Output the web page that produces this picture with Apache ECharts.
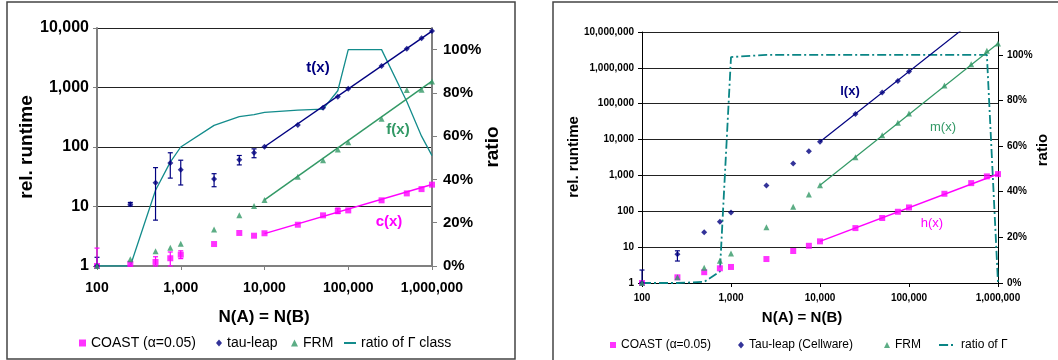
<!DOCTYPE html>
<html><head><meta charset="utf-8">
<script src="https://cdn.jsdelivr.net/npm/echarts@6/dist/echarts.min.js"></script>
<style>html,body{margin:0;padding:0;background:#fff}#c{width:1058px;height:360px}</style>
</head><body><div id="c"></div>
<script>
// ---- data ----
const N = [100,250,500,750,1000,2500,5000,7500,10000,25000,50000,75000,100000,250000,500000,750000,1000000];
const xTicks = [100,1000,10000,100000,1000000];
const ratioTicks = [0,0.2,0.4,0.6,0.8,1.0];

// left chart
const coastL = [1,1.09,1.17,1.35,1.55,2.34,3.59,3.23,3.55,4.94,7.1,8.4,8.6,12.7,16.6,19.6,23.3];
const tauL   = [1,10.9,25,54,41.5,29,61,80,101,234,458,700,955,2300,4480,6700,8900];
const frmL   = [1,1.3,1.77,2.03,2.37,4.1,7.1,10.2,12.9,31.7,60,91,120,299,910,918,1260];
const ratioL = [0,0,0.35,0.48,0.55,0.65,0.69,0.70,0.71,0.72,0.725,0.81,1.0,1.0,0.76,0.60,0.51];
const tauErrL   = [[100,1,1.4],[250,10.2,11.7],[500,5.9,45],[750,30,80],[1000,23,60],[2500,21.5,35.6],[5000,50,72],[7500,66,93]];
const coastErrL = [[100,1,2.0],[250,1,1.18],[500,1,1.43],[750,1,1.72],[1000,1.33,1.8],[75000,7.6,9.4]];
const tFit = [[10000,101],[1000000,8900]];
const fFit = [[10000,12.9],[1000000,1280]];
const cFit = [[10000,3.5],[1000000,23.5]];

// right chart
const coastR = [1,1.44,2.0,2.57,2.8,4.66,7.8,10.9,14.5,34,65,97,128,308,610,940,1090];
const tauR   = [1,6.3,26,51,93,526,2150,4760,8650,52000,205000,433000,795000,null,null,null,null];
const frmR   = [1,1.44,2.67,4.2,6.7,35.6,134,295,530,3230,13200,29300,53300,323000,1260000,3000000,4800000];
const ratioR = [0,0,0.005,0.05,0.99,1,1,1,1,1,1,1,1,1,1,1,0];
const tauErrR = [[100,1,2.3],[250,4.1,7.9]];
const lFit = [[10000,8650],[1000000,72000000]];
const mFit = [[10000,530],[1000000,4800000]];
const hFit = [[10000,14.5],[1000000,1100]];

// ---- helpers ----
const NAVY='#000080', GREEN='#339966', MAG='#ff00ff', TEAL='#138c8c';
const pairs = a => N.map((n,i)=>[n,a[i]]).filter(p=>p[1]!=null);
const fmt = v => Math.round(v).toLocaleString('en-US');
function errRender(color){
  return function(params, api){
    const x=api.value(0), lo=api.value(1), hi=api.value(2);
    const a=api.coord([x,lo]), b=api.coord([x,hi]); const w=2.5;
    const st={stroke:color,lineWidth:1.2};
    return {type:'group',children:[
      {type:'line',shape:{x1:a[0],y1:a[1],x2:b[0],y2:b[1]},style:st},
      {type:'line',shape:{x1:a[0]-w,y1:a[1],x2:a[0]+w,y2:a[1]},style:st},
      {type:'line',shape:{x1:b[0]-w,y1:b[1],x2:b[0]+w,y2:b[1]},style:st}
    ]};
  };
}
function errSeries(name,data,color,xi,yi){
  return {name,type:'custom',xAxisIndex:xi,yAxisIndex:yi,data,renderItem:errRender(color),encode:{x:0,y:[1,2]},z:3,silent:true};
}
function scat(name,data,sym,size,color,xi,yi){
  return {name,type:'scatter',xAxisIndex:xi,yAxisIndex:yi,data:pairs(data),symbol:sym,symbolSize:size,itemStyle:{color},z:5};
}
function fit(name,data,color,xi,yi,w){
  return {name,type:'line',xAxisIndex:xi,yAxisIndex:yi,data,symbol:'none',lineStyle:{color,width:w},clip:true,z:4,silent:true};
}

const F='Liberation Sans, Arial, sans-serif';
function xAx(gi,size,margin,lineColor,lineW){
  return {type:'log',logBase:10,min:100,max:1000000,gridIndex:gi,
    axisLine:{show:true,lineStyle:{color:lineColor,width:lineW}},
    axisTick:{show:true,length:4,lineStyle:{color:lineColor}},
    splitLine:{show:false},
    axisLabel:{formatter:fmt,fontFamily:F,fontWeight:'bold',fontSize:size,color:'#000',margin}};
}
function yLog(gi,max,size,margin,lineColor,lineW){
  return {type:'log',logBase:10,min:1,max,gridIndex:gi,
    axisLine:{show:true,lineStyle:{color:lineColor,width:lineW}},
    axisTick:{show:true,length:4,lineStyle:{color:lineColor}},
    splitLine:{show:true,lineStyle:{color:'#222',width:1}},
    axisLabel:{formatter:fmt,fontFamily:F,fontWeight:'bold',fontSize:size,color:'#000',margin}};
}
function yRatio(gi,size,margin,lineColor,lineW){
  return {type:'value',min:0,max:1.1,gridIndex:gi,position:'right',
    axisLine:{show:true,lineStyle:{color:lineColor,width:lineW}},
    axisTick:{show:true,length:5,customValues:ratioTicks,lineStyle:{color:lineColor}},
    splitLine:{show:false},
    axisLabel:{customValues:ratioTicks,formatter:v=>Math.round(v*100)+'%',fontFamily:F,fontWeight:'bold',fontSize:size,color:'#000',margin}};
}
function leg(left,top,name,icon,w,h,size){
  const d={name}; if(icon) d.icon=icon;
  return {left,top,data:[d],itemWidth:w,itemHeight:h,selectedMode:false,
    textStyle:{fontFamily:F,fontSize:size,color:'#000'}};
}
function txt(x,y,t,size,color,weight,rot){
  return {type:'text',x,y,rotation:rot||0,silent:true,
    style:{text:t,fill:color,font:(weight||'bold')+' '+size+'px '+F,textAlign:'center',textVerticalAlign:'middle'}};
}

const chart = echarts.init(document.getElementById('c'),null,{renderer:'canvas'});
chart.setOption({
  animation:false,
  grid:[
    {left:97,top:28,width:335,height:238},
    {left:642,top:32,width:356,height:251}
  ],
  xAxis:[ xAx(0,14,15,'#808080',2), xAx(1,10,10,'#000',1) ],
  yAxis:[
    yLog(0,10000,16,8,'#808080',2),
    yRatio(0,15,11,'#808080',2),
    yLog(1,10000000,10,8,'#000',1),
    yRatio(1,10,9,'#000',1)
  ],
  legend:[
    leg(74,331,'COAST (α=0.05)','rect',7,7,14),
    leg(211,331,'tau-leap','diamond',6,7,14),
    leg(286,331,'FRM','triangle',7,7,14),
    leg(338,331,'ratio of Γ class',null,12,2,14),
    leg(605,334,'COAST (α=0.05)','rect',6,6,12),
    leg(733,334,'Tau-leap (Cellware)','diamond',6,7,12),
    leg(879,334,'FRM','triangle',6,6,12),
    leg(933,334,'ratio of Γ',null,17,2,12)
  ],
  graphic:[
    {type:'rect',shape:{x:7,y:2,width:508,height:357},style:{fill:'none',stroke:'#444',lineWidth:1.5},silent:true,z:-10},
    {type:'rect',shape:{x:553,y:2,width:520,height:370},style:{fill:'none',stroke:'#444',lineWidth:1.5},silent:true,z:-10},
    txt(27,147,'rel. runtime',19,'#000','bold',Math.PI/2),
    txt(493,147,'ratio',19,'#000','bold',Math.PI/2),
    txt(264,317,'N(A) = N(B)',17,'#000','bold'),
    txt(574,157,'rel. runtime',15,'#000','bold',Math.PI/2),
    txt(1043,150,'ratio',15,'#000','bold',Math.PI/2),
    txt(802,318,'N(A) = N(B)',15,'#000','bold'),
    txt(318,68,'t(x)',15,NAVY,'bold'),
    txt(398,130,'f(x)',15,GREEN,'bold'),
    txt(389,222,'c(x)',15,MAG,'bold'),
    txt(850,91,'l(x)',13,NAVY,'bold'),
    txt(943,127,'m(x)',13,GREEN,'normal'),
    txt(932,223,'h(x)',13,MAG,'normal')
  ],
  series:[
    // left
    {name:'ratio of Γ class',type:'line',xAxisIndex:0,yAxisIndex:1,data:pairs(ratioL),symbol:'none',lineStyle:{color:TEAL,width:1.3},itemStyle:{color:TEAL},z:2},
    fit('t(x)',tFit,NAVY,0,0,1.5),
    fit('f(x)',fFit,GREEN,0,0,1.5),
    fit('c(x)',cFit,MAG,0,0,1.5),
    errSeries('tauErrL',tauErrL,NAVY,0,0),
    errSeries('coastErrL',coastErrL,MAG,0,0),
    scat('COAST (α=0.05)',coastL,'rect',6,MAG,0,0),
    scat('tau-leap',tauL,'diamond',6,NAVY,0,0),
    scat('FRM',frmL,'triangle',6,GREEN,0,0),
    // right
    {name:'ratio of Γ',type:'line',xAxisIndex:1,yAxisIndex:3,data:pairs(ratioR),symbol:'none',lineStyle:{color:'#0a8585',width:1.8,type:[9,3,2,3]},itemStyle:{color:'#0a8585'},z:2},
    fit('l(x)',lFit,NAVY,1,2,1.2),
    fit('m(x)',mFit,GREEN,1,2,1.2),
    fit('h(x)',hFit,MAG,1,2,1.5),
    errSeries('tauErrR',tauErrR,NAVY,1,2),
    scat('COAST (α=0.05)',coastR,'rect',6,MAG,1,2),
    scat('Tau-leap (Cellware)',tauR,'diamond',6,NAVY,1,2),
    scat('FRM',frmR,'triangle',6,GREEN,1,2)
  ]
});
</script></body></html>
